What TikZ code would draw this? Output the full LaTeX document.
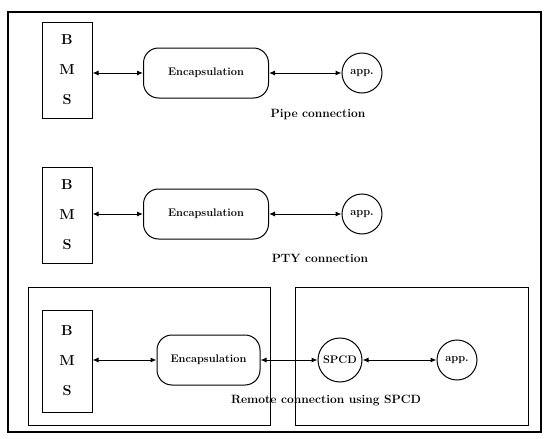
\documentclass[tikz,border=0pt]{standalone}
\usepackage{tikz}
\usetikzlibrary{arrows.meta,positioning,fit,calc}

\begin{document}
\begin{tikzpicture}[x=1pt, y=-1pt,
    bmsbox/.style={draw, line width=1pt, minimum width=50pt, minimum height=96pt, align=center, font=\Large\bfseries},
    encbox/.style={draw, line width=1pt, rounded corners=15pt, minimum width=125pt, minimum height=50pt, font=\fontsize{11}{13}\selectfont\bfseries},
    appnode/.style={draw, circle, line width=1pt, minimum size=40pt, inner sep=1pt, font=\fontsize{11}{13}\selectfont\bfseries},
    framebox/.style={draw, line width=1pt, minimum width=242pt, minimum height=138pt},
    caption/.style={font=\large\bfseries},
    link/.style={{Latex[length=6pt,width=5pt]}-{Latex[length=6pt,width=5pt]}, line width=1pt}]
  \useasboundingbox (0,0) rectangle (547,439);
  \draw[line width=2pt] (8,12) rectangle (541,432);

  % pipe connection
  \node[bmsbox] (bms1) at (67,70) {B\\[12pt]M\\[12pt]S};
  \node[encbox] (enc1) at (206,73) {Encapsulation};
  \node[appnode] (app1) at (362,73) {app.};
  \node[caption] (cap1) at (318,115) {Pipe connection};
  \draw[link] (enc1.west -| bms1.east) -- (enc1);
  \draw[link] (enc1) -- (app1);

  % pty connection
  \node[bmsbox] (bms2) at (67,215) {B\\[12pt]M\\[12pt]S};
  \node[encbox] (enc2) at (206,214) {Encapsulation};
  \node[appnode] (app2) at (362,214) {app.};
  \node[caption] (cap2) at (320,258) {PTY connection};
  \draw[link] (enc2.west -| bms2.east) -- (enc2);
  \draw[link] (enc2) -- (app2);

  % remote connection
  \node[framebox] (local) at (149,356) {};
  \node[framebox, minimum width=233pt] (remote) at (411.5,356) {};
  \node[bmsbox, minimum height=102pt] (bms3) at (67,361) {B\\[12pt]M\\[12pt]S};
  \node[encbox, minimum width=103pt] (enc3) at (208.5,360) {Encapsulation};
  \node[appnode, minimum size=44pt] (spcd) at (340,360) {SPCD};
  \node[appnode] (app3) at (457,360) {app.};
  \node[caption] (cap3) at (326,401) {Remote connection using SPCD};
  \draw[link] (enc3.west -| bms3.east) -- (enc3);
  \draw[link] (enc3) -- (spcd);
  \draw[link] (spcd) -- (app3);
\end{tikzpicture}
\end{document}
